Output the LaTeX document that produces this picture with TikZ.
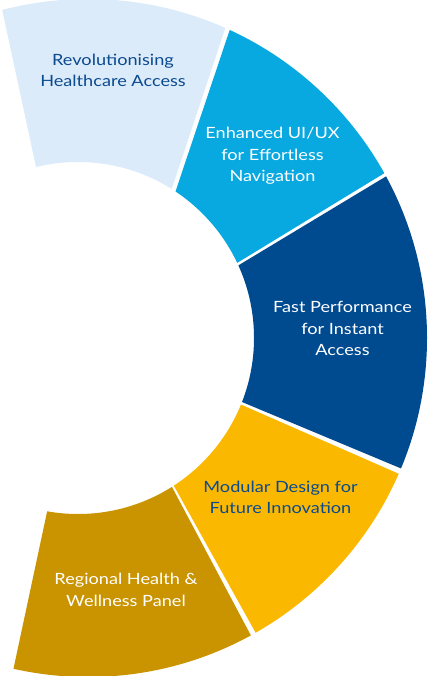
\documentclass[tikz,border=0pt]{standalone}
\usepackage{fontspec}
\setmainfont{Lato}[FakeStretch=1.17]
\usetikzlibrary{calc}
\definecolor{cLight}{RGB}{220,235,250}
\definecolor{cCyan}{RGB}{8,168,224}
\definecolor{cNavy}{RGB}{0,74,144}
\definecolor{cYellow}{RGB}{251,184,0}
\definecolor{cGold}{RGB}{201,148,0}
\definecolor{cText}{RGB}{11,74,143}
\tikzset{
  lbl/.style={align=center, font=\fontsize{15.5}{21.5}\selectfont, inner sep=0pt},
  ring/.style={even odd rule},
}
% #1 colour, #2 #3 first edge (outer, inner), #4 #5 second edge (outer, inner)
\newcommand{\ringpart}[5]{%
  \begin{scope}
    \clip ($#3!-0.15!#2$) -- ($#3!3!#2$) -- ($#5!3!#4$) -- ($#5!-0.15!#4$) -- cycle;
    \fill[#1, ring] (88,338) circle[radius=339pt] (78,338) circle[radius=176pt];
  \end{scope}}
\begin{document}
\begin{tikzpicture}[x=1pt,y=-1pt]
\useasboundingbox (0,0) rectangle (429,676);
% segments
\ringpart{cLight}{(2,9)}{(36,167)}{(224,32)}{(172,188)}
\ringpart{cCyan}{(228,35)}{(176,190)}{(383,174)}{(237,263)}
\ringpart{cNavy}{(385,177)}{(239,265)}{(400,468)}{(242,402)}
\ringpart{cYellow}{(397,473)}{(242,405)}{(253,628)}{(174,486)}
\ringpart{cGold}{(248,630)}{(172,487)}{(13,671)}{(47,512)}
% labels
\node[lbl, text=cText] (t1) at (113,70.5) {Revolutionising\\Healthcare Access};
\node[lbl, text=white] (t2) at (272.5,156) {Enhanced UI/UX\\for Effortless\\Navigation};
\node[lbl, text=white] (t3) at (342.5,328.5) {Fast Performance\\for Instant\\Access};
\node[lbl, text=cText] (t4) at (280.5,497.5) {Modular Design for\\Future Innovation};
\node[lbl, text=white] (t5) at (126,590) {Regional Health \&\\Wellness Panel};
\end{tikzpicture}
\end{document}
